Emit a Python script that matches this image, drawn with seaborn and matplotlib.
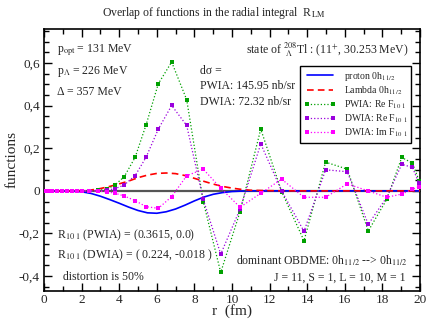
import numpy as np
import pandas as pd
import matplotlib
matplotlib.use("Agg")
import matplotlib.pyplot as plt
import seaborn as sns
from matplotlib.ticker import MultipleLocator, FixedLocator

# ---------------- data ----------------
r_pts = [0.04, 0.22, 0.45, 0.70, 0.96, 1.22, 1.49, 1.76, 2.04, 2.42, 2.87,
         3.33, 3.78, 4.27, 4.85, 5.43, 6.08, 6.79, 7.59, 8.47, 9.40, 10.43,
         11.53, 12.64, 13.83, 14.98, 16.13, 17.25, 18.23, 19.03, 19.60, 19.95]
pwia_re = [0, 0, 0, 0, 0, 0, 0, 0, 0, 0.0, 0.002,
           0.008, 0.028, 0.067, 0.158, 0.310, 0.503, 0.605, 0.428, -0.050, -0.383, -0.097,
           0.290, -0.003, -0.234, 0.135, 0.102, -0.188, -0.040, 0.157, 0.130, 0.048]
dwia_re = [0, 0, 0, 0, 0, 0, 0, 0, 0, 0.0, 0.001,
           0.004, 0.010, 0.028, 0.072, 0.158, 0.290, 0.401, 0.307, -0.040, -0.297, -0.085,
           0.221, 0.000, -0.190, 0.099, 0.090, -0.157, -0.030, 0.125, 0.110, 0.035]
dwia_im = [0, 0, 0, 0, 0, 0, 0, 0, 0, 0.0, -0.001,
           -0.004, -0.011, -0.024, -0.046, -0.074, -0.082, -0.027, 0.071, 0.102, 0.013, -0.077,
           -0.011, 0.055, -0.030, -0.030, 0.033, 0.000, -0.030, -0.015, 0.008, 0.020]

r_wf = [0, 1, 1.5, 2, 2.5, 3, 3.5, 4, 4.5, 5, 5.5, 6, 6.5, 7, 7.5, 8, 8.5, 9,
        9.5, 10, 10.5, 11, 12, 13, 14, 16, 18, 20]
proton = [0, 0, -0.001, -0.004, -0.012, -0.025, -0.041, -0.058, -0.076, -0.092,
          -0.103, -0.105, -0.098, -0.085, -0.067, -0.047, -0.029, -0.016,
          -0.008, -0.003, -0.001, 0, 0, 0, 0, 0, 0, 0]
lam = [0, 0, 0.0, 0.001, 0.004, 0.011, 0.021, 0.033, 0.046, 0.062,
       0.074, 0.082, 0.084, 0.081, 0.072, 0.059, 0.045, 0.032,
       0.021, 0.013, 0.007, 0.003, 0.001, 0, 0, 0, 0, 0]

labels = ["proton 0h$_{11/2}$", "Lambda 0h$_{11/2}$",
          "PWIA: Re F$_{10\\ 1}$", "DWIA: Re F$_{10\\ 1}$", "DWIA: Im F$_{10\\ 1}$"]
xticks = [0, 2, 4, 6, 8, 10, 12, 14, 16, 18, 20]
yticks = [-0.4, -0.2, 0, 0.2, 0.4, 0.6]
ytick_labels = ["-0,4", "-0,2", "0", "0,2", "0,4", "0,6"]

# ---------------- style ----------------
sns.set_style("ticks")
plt.rcParams['font.family'] = ['Liberation Serif', 'DejaVu Serif']
plt.rcParams['mathtext.fontset'] = 'stix'

fig = plt.figure(figsize=(4.28, 3.2), dpi=100)
ax = fig.add_axes([44/428, 29/320, 376/428, 262/320])

ax.axhline(0, color='#555555', lw=1.6, zorder=1)

df_wf = pd.DataFrame({"r": r_wf, "proton": proton, "lam": lam})
df_pts = pd.DataFrame({"r": r_pts, "pw": pwia_re, "dre": dwia_re, "dim": dwia_im})

sns.lineplot(data=df_wf, x="r", y="proton", ax=ax, color='#0000ff', lw=1.2,
             label=labels[0], zorder=3)
sns.lineplot(data=df_wf, x="r", y="lam", ax=ax, color='#ff0000', lw=1.2,
             linestyle=(0, (4, 2.5)), label=labels[1], zorder=3)
sns.lineplot(data=df_pts, x="r", y="pw", ax=ax, color='#00a000', lw=0.9,
             linestyle=':', marker='s', markersize=3, markeredgewidth=0,
             label=labels[2], zorder=4)
sns.lineplot(data=df_pts, x="r", y="dre", ax=ax, color='#9a00dd', lw=0.9,
             linestyle=':', marker='s', markersize=3, markeredgewidth=0,
             label=labels[3], zorder=5)
sns.lineplot(data=df_pts, x="r", y="dim", ax=ax, color='#ff00ff', lw=0.9,
             linestyle=':', marker='s', markersize=3, markeredgewidth=0,
             label=labels[4], zorder=6)

ax.set_xlim(0, 20)
ax.set_ylim(-0.47, 0.76)
ax.xaxis.set_major_locator(FixedLocator(xticks))
ax.xaxis.set_minor_locator(MultipleLocator(1))
ax.yaxis.set_major_locator(FixedLocator(yticks))
ax.set_yticklabels(ytick_labels)
ax.yaxis.set_minor_locator(MultipleLocator(0.05))
ax.tick_params(which='both', direction='in', top=True, right=True,
               color='black', labelsize=9.5)
ax.tick_params(axis='x', pad=2)
ax.tick_params(axis='y', pad=3)
ax.tick_params(which='major', length=6, width=1)
ax.tick_params(which='minor', length=3.5, width=1)
for s in ax.spines.values():
    s.set_color('black')
    s.set_linewidth(1.2)

ax.set_xlabel("r  (fm)", fontsize=11, labelpad=-1)
ax.set_ylabel("functions", fontsize=11, labelpad=0)
fig.suptitle("Overlap of functions in the radial integral  R$_{\\rm LM}$",
             fontsize=8.5, x=0.5, y=0.985)

fs = 8.5
def txt(fx, fy, s, ha='left'):
    ax.text(fx, fy, s, transform=ax.transAxes, fontsize=fs, ha=ha, va='center')

txt(0.035, 0.92, "p$_{\\rm opt}$ = 131 MeV")
txt(0.035, 0.836, "p$_{\\Lambda}$ = 226 MeV")
txt(0.035, 0.76, "Δ = 357 MeV")
txt(0.415, 0.84, "dσ =")
txt(0.415, 0.782, "PWIA: 145.95 nb/sr")
txt(0.415, 0.721, "DWIA: 72.32 nb/sr")
txt(0.968, 0.92, "state of ${}^{208}_{\\ \\Lambda}$Tl : (11$^{+}$, 30.253 MeV)", ha='right')
txt(0.035, 0.214, "R$_{10\\ 1}$ (PWIA) = (0.3615, 0.0)")
txt(0.035, 0.137, "R$_{10\\ 1}$ (DWIA) = ( 0.224, -0.018 )")
txt(0.05, 0.053, "distortion is 50%")
txt(0.968, 0.115, "dominant OBDME: 0h$_{11/2}$ --> 0h$_{11/2}$", ha='right')
txt(0.787, 0.05, "J = 11, S = 1, L = 10, M = 1", ha='center')

leg = ax.legend(loc='upper left', bbox_to_anchor=(0.681, 0.859), fontsize=7,
                numpoints=2, handlelength=3.3, fancybox=False, framealpha=1,
                edgecolor='black', borderpad=0.4, labelspacing=0.15,
                handletextpad=0.8, borderaxespad=0)
leg.get_frame().set_linewidth(1.0)

fig.savefig("out.png", dpi=100)
